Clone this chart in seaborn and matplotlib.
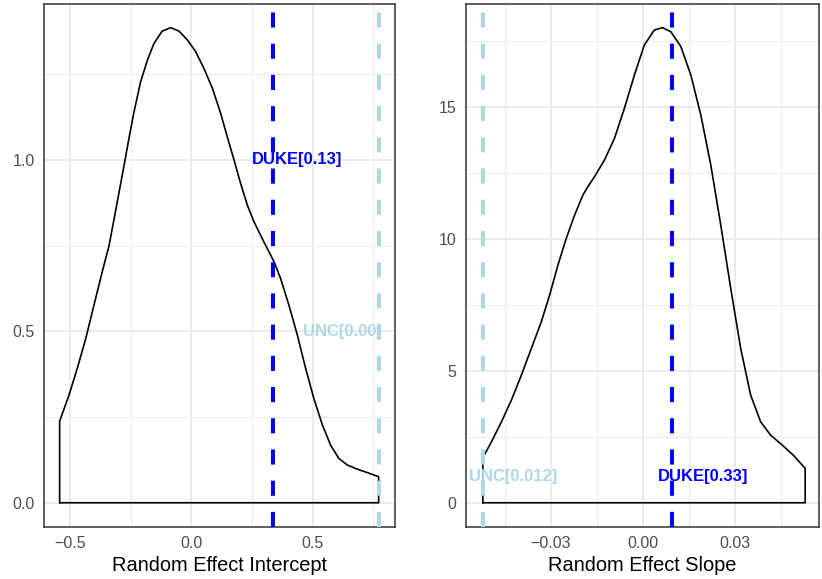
import matplotlib
matplotlib.use("Agg")
import matplotlib.pyplot as plt
import seaborn as sns
import numpy as np
import pandas as pd

# ---- data ----
intercept_x = [-0.5426, -0.504, -0.470, -0.435, -0.401, -0.367, -0.339, -0.305, -0.277,
               -0.257, -0.236, -0.209, -0.181, -0.154, -0.120, -0.085, -0.051, -0.016,
               0.018, 0.052, 0.087, 0.121, 0.148, 0.176, 0.203, 0.231, 0.258, 0.299,
               0.341, 0.368, 0.402, 0.437, 0.471, 0.505, 0.540, 0.574, 0.608, 0.643,
               0.684, 0.725, 0.772]
intercept_density = [0.238, 0.314, 0.392, 0.479, 0.577, 0.674, 0.750, 0.878, 0.985,
                     1.063, 1.141, 1.228, 1.291, 1.340, 1.376, 1.386, 1.376, 1.350,
                     1.316, 1.267, 1.209, 1.136, 1.068, 1.000, 0.932, 0.868, 0.820, 0.761,
                     0.703, 0.654, 0.577, 0.489, 0.392, 0.304, 0.227, 0.168, 0.129, 0.110,
                     0.098, 0.088, 0.076]

slope_x = [-0.05214, -0.04933, -0.04608, -0.04284, -0.03959, -0.03635, -0.03310, -0.03040,
           -0.02769, -0.02499, -0.02228, -0.01958, -0.01796, -0.01579, -0.01255, -0.00930,
           -0.00606, -0.00281, 0.00043, 0.00368, 0.00638, 0.00909, 0.01233, 0.01558,
           0.01882, 0.02207, 0.02531, 0.02856, 0.03180, 0.03505, 0.03829, 0.04154,
           0.04532, 0.04911, 0.05279]
slope_density = [1.706, 2.312, 3.070, 3.892, 4.840, 5.850, 6.861, 7.872, 9.009, 10.02,
                 10.90, 11.66, 11.98, 12.36, 12.99, 13.81, 14.95, 16.21, 17.35, 17.92,
                 18.01, 17.85, 17.29, 16.21, 14.70, 12.80, 10.53, 8.125, 5.850, 4.081,
                 3.070, 2.565, 2.186, 1.782, 1.302]

schools = ["DUKE", "UNC"]
school_colors = ["#0000FF", "#ADD8E6"]
intercept_lines = [0.335, 0.772]
intercept_label_x = [0.435, 0.622]
intercept_label_y = [1.0, 0.5]
intercept_labels = ["DUKE[0.13]", "UNC[0.00]"]
slope_lines = [0.00952, -0.05214]
slope_label_x = [0.0195, -0.0422]
slope_label_y = [1.0, 1.0]
slope_labels = ["DUKE[0.33]", "UNC[0.012]"]

intercept_xticks = [-0.5, 0.0, 0.5]
intercept_xticklabels = ["\u22120.5", "0.0", "0.5"]
intercept_yticks = [0.0, 0.5, 1.0]
intercept_yticklabels = ["0.0", "0.5", "1.0"]
slope_xticks = [-0.03, 0.0, 0.03]
slope_xticklabels = ["\u22120.03", "0.00", "0.03"]
slope_yticks = [0, 5, 10, 15]
slope_yticklabels = ["0", "5", "10", "15"]

# ---- style ----
sns.set_style("white")
plt.rcParams["font.family"] = ["Liberation Sans", "DejaVu Sans"]

W, H = 822, 579
fig = plt.figure(figsize=(W / 100, H / 100), dpi=100)


def px_axes(x0, x1, ytop, ybot):
    return fig.add_axes([x0 / W, 1 - ybot / H, (x1 - x0) / W, (ybot - ytop) / H])


ax1 = px_axes(43.7, 394.6, 3.9, 526.5)
ax2 = px_axes(465.7, 818.5, 3.9, 526.5)


def closed_outline(xs, ys):
    px = [xs[0]] + list(xs) + [xs[-1], xs[0]]
    py = [0.0] + list(ys) + [0.0, 0.0]
    return pd.DataFrame({"x": px, "y": py})


def style_axes(ax, xlim, ylim, xmaj, xmin, ymaj, ymin, xt, xtl, yt, ytl, xlabel):
    ax.set_xlim(*xlim)
    ax.set_ylim(*ylim)
    ax.set_facecolor("white")
    for v in xmin:
        ax.axvline(v, color="#EBEBEB", lw=0.7, zorder=0)
    for v in xmaj:
        ax.axvline(v, color="#EBEBEB", lw=1.4, zorder=0)
    for v in ymin:
        ax.axhline(v, color="#EBEBEB", lw=0.7, zorder=0)
    for v in ymaj:
        ax.axhline(v, color="#EBEBEB", lw=1.4, zorder=0)
    ax.set_xticks(xt)
    ax.set_xticklabels(xtl)
    ax.set_yticks(yt)
    ax.set_yticklabels(ytl)
    ax.tick_params(axis="both", which="major", length=3.6, width=1.0, color="#333333",
                   labelcolor="#4D4D4D", labelsize=11.5, pad=3)
    for s in ax.spines.values():
        s.set_color("#333333")
        s.set_linewidth(1.1)
        s.set_visible(True)
    ax.set_xlabel(xlabel, fontsize=14.4, color="black", labelpad=4)
    ax.set_ylabel("")


# left panel
df1 = closed_outline(intercept_x, intercept_density)
sns.lineplot(data=df1, x="x", y="y", sort=False, estimator=None, color="black",
             lw=1.2, ax=ax1, zorder=3, solid_joinstyle="round")
for xv, c in zip(intercept_lines, school_colors):
    ax1.axvline(xv, color=c, lw=2.9, dashes=(3.75, 4.0), zorder=4)
for xv, yv, t, c in zip(intercept_label_x, intercept_label_y, intercept_labels, school_colors):
    ax1.text(xv, yv, t, color=c, fontsize=12, fontweight="bold", ha="center", va="center",
             zorder=5)
style_axes(ax1, (-0.6083, 0.8377), (-0.0693, 1.4553),
           [-0.5, 0.0, 0.5], [-0.25, 0.25, 0.75], [0.0, 0.5, 1.0], [0.25, 0.75, 1.25],
           intercept_xticks, intercept_xticklabels, intercept_yticks, intercept_yticklabels,
           "Random Effect Intercept")

# right panel
df2 = closed_outline(slope_x, slope_density)
sns.lineplot(data=df2, x="x", y="y", sort=False, estimator=None, color="black",
             lw=1.2, ax=ax2, zorder=3, solid_joinstyle="round")
for xv, c in zip(slope_lines, school_colors):
    ax2.axvline(xv, color=c, lw=2.9, dashes=(3.75, 4.0), zorder=4)
for xv, yv, t, c in zip(slope_label_x, slope_label_y, slope_labels, school_colors):
    ax2.text(xv, yv, t, color=c, fontsize=12, fontweight="bold", ha="center", va="center",
             zorder=5)
style_axes(ax2, (-0.05772, 0.05713), (-0.9, 18.91),
           [-0.03, 0.0, 0.03], [-0.045, -0.015, 0.015, 0.045], [0, 5, 10, 15],
           [2.5, 7.5, 12.5, 17.5],
           slope_xticks, slope_xticklabels, slope_yticks, slope_yticklabels,
           "Random Effect Slope")

fig.savefig("out.png", dpi=100)
